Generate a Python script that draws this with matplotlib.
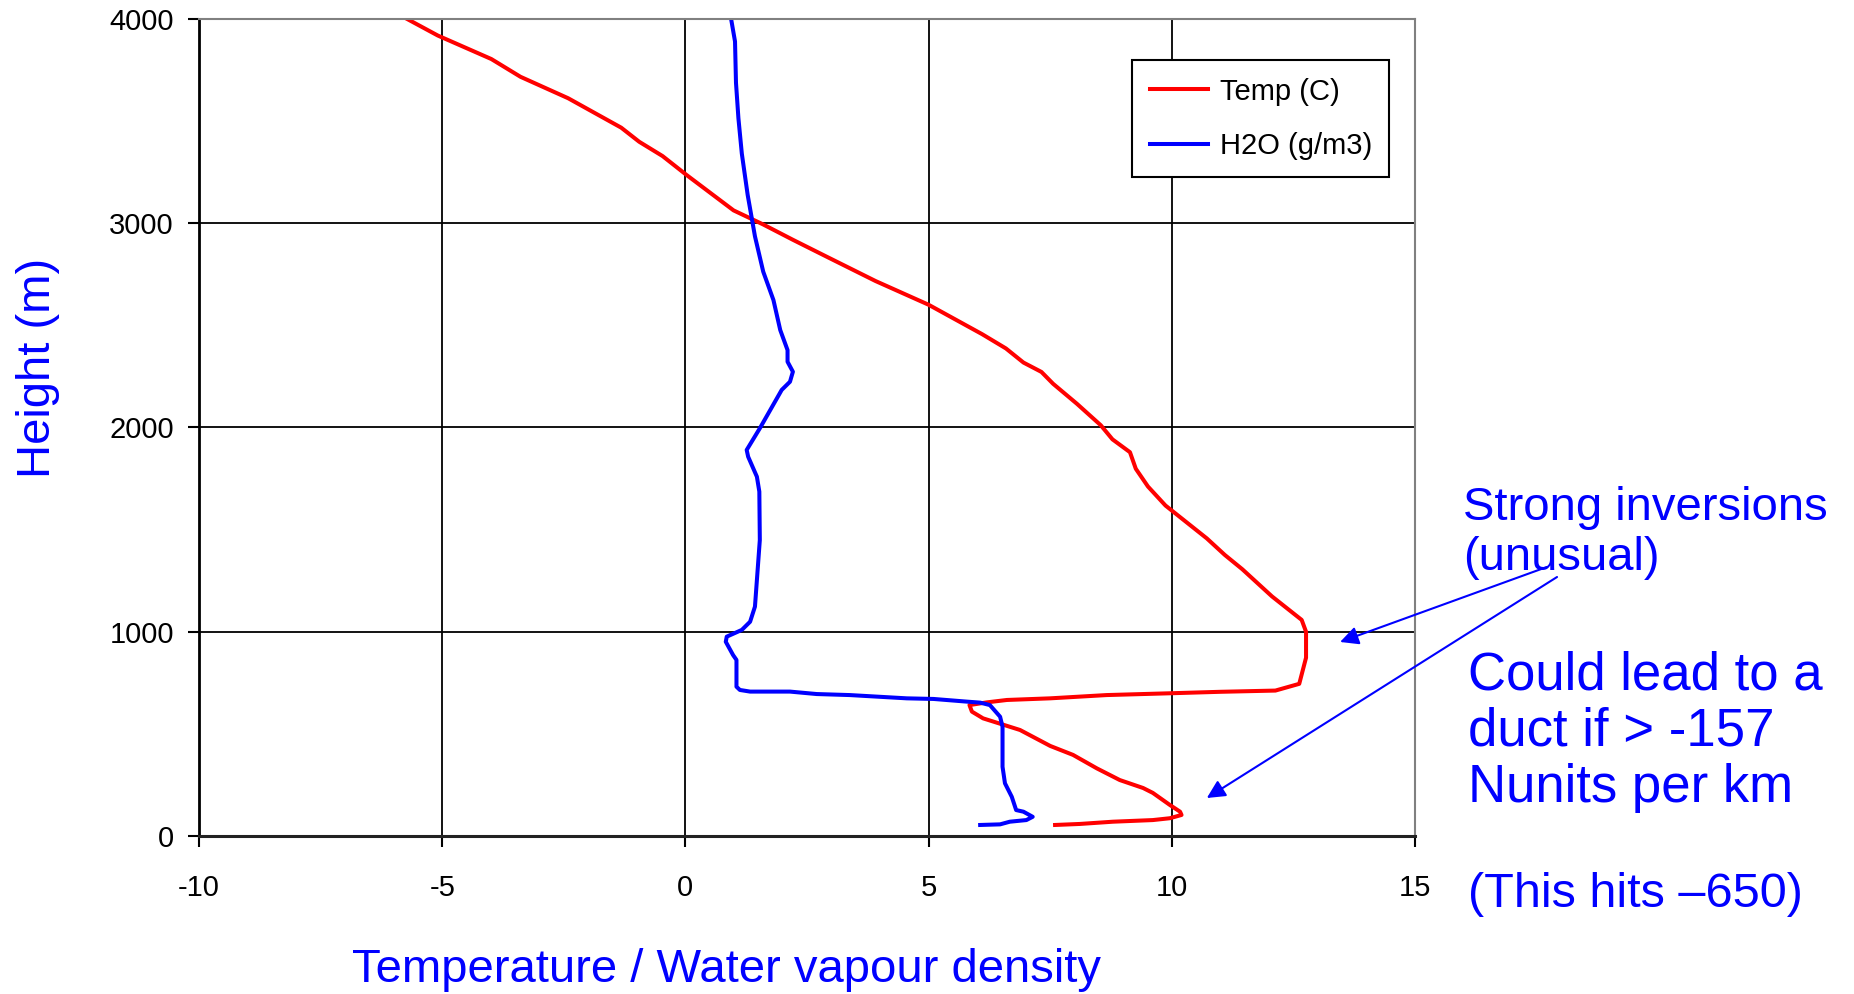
import matplotlib
matplotlib.use("Agg")
import matplotlib.pyplot as plt

plt.rcParams["font.family"] = ["Liberation Sans", "DejaVu Sans"]
plt.rcParams["axes.unicode_minus"] = False

# Temperature profile (deg C) vs height (m), ground up
temp_c = [7.60, 8.11, 8.79, 9.61, 9.96, 10.20, 10.17, 9.96, 9.61, 9.41, 8.93, 8.46, 7.97,
          7.50, 6.88, 6.12, 5.89, 5.84, 6.19, 6.61, 7.50, 8.66, 10.00, 11.00, 12.13, 12.62,
          12.76, 12.76, 12.67, 12.06, 11.45, 11.09, 10.72, 9.87, 9.51, 9.26, 9.14, 8.78,
          8.54, 8.05, 7.56, 7.32, 6.95, 6.59, 6.10, 5.00, 3.91, 2.94, 2.21, 1.60, 0.99,
          0.02, -0.47, -0.95, -1.32, -2.41, -3.39, -3.99, -5.09, -5.72]
temp_h = [54, 59, 70, 78, 87, 103, 119, 152, 211, 235, 274, 331, 397,
          441, 519, 576, 609, 641, 654, 666, 674, 690, 699, 706, 712, 745,
          873, 1000, 1058, 1173, 1306, 1376, 1457, 1618, 1711, 1798, 1879, 1942,
          2011, 2116, 2214, 2272, 2318, 2387, 2457, 2601, 2717, 2832, 2919, 2994, 3063,
          3237, 3329, 3399, 3468, 3612, 3717, 3804, 3919, 4000]

# Water vapour density (g/m3) vs height (m), ground up
h2o = [6.06, 6.47, 6.67, 7.01, 7.14, 6.95, 6.80, 6.71, 6.57, 6.52, 6.52, 6.47, 6.26,
       6.06, 5.78, 5.10, 4.55, 3.38, 2.70, 2.15, 1.33, 1.12, 1.05, 1.05, 0.98, 0.83,
       0.85, 1.16, 1.33, 1.43, 1.53, 1.52, 1.47, 1.29, 1.26, 1.53, 1.98, 2.15, 2.21,
       2.10, 2.10, 1.95, 1.81, 1.60, 1.43, 1.28, 1.16, 1.09, 1.04, 1.02, 0.94]
h2o_h = [54, 57, 70, 78, 94, 119, 127, 192, 258, 339, 535, 584, 641,
         653, 658, 671, 674, 690, 695, 707, 707, 715, 731, 862, 886, 951,
         976, 1009, 1049, 1123, 1449, 1686, 1759, 1857, 1890, 1996, 2184, 2224, 2273,
         2322, 2379, 2477, 2624, 2763, 2936, 3139, 3341, 3514, 3688, 3890, 4000]

x_ticks = [-10, -5, 0, 5, 10, 15]
y_ticks = [0, 1000, 2000, 3000, 4000]

W, H = 1854, 994


def fx(px):
    return px / W


def fy(py):
    return 1 - py / H


fig = plt.figure(figsize=(W / 100, H / 100), dpi=100)
ax = fig.add_axes([fx(199), fy(836), 1216 / W, 817 / H])

ax.plot(temp_c, temp_h, color="#ff0000", lw=2.9, label="Temp (C)")
ax.plot(h2o, h2o_h, color="#0000ff", lw=2.9, label="H2O (g/m3)")

ax.set_xlim(-10, 15)
ax.set_ylim(0, 4000)
ax.set_xticks(x_ticks)
ax.set_yticks(y_ticks)
ax.grid(True, color="black", lw=1.3)
ax.set_axisbelow(True)

ax.spines["left"].set_color("black")
ax.spines["left"].set_linewidth(2)
ax.spines["bottom"].set_color("#222222")
ax.spines["bottom"].set_linewidth(2.2)
for s in ("top", "right"):
    ax.spines[s].set_color("#808080")
    ax.spines[s].set_linewidth(1.5)

ax.tick_params(axis="x", direction="out", length=8, width=1.5, pad=19, labelsize=21)
ax.tick_params(axis="y", direction="out", length=8, width=1.5, pad=10, labelsize=21)

ax.set_xlabel("Temperature / Water vapour density", color="#0000ff", fontsize=34)
ax.xaxis.set_label_coords(0.434, -0.164)
ax.set_ylabel("Height (m)", color="#0000ff", fontsize=34)
ax.yaxis.set_label_coords(-0.132, 0.573)
ax.xaxis.label.set_va("center")
ax.yaxis.label.set_va("center")

leg = ax.legend(loc="upper left", bbox_to_anchor=(fx(1132), fy(60)),
                bbox_transform=fig.transFigure, fontsize=21, frameon=True,
                fancybox=False, framealpha=1, edgecolor="black",
                handlelength=2.0, handletextpad=0.4, labelspacing=0.9,
                borderpad=0.6, borderaxespad=0)
leg.get_frame().set_linewidth(1.5)

# annotations on the right
blue = "#0000ff"
fig.text(fx(1463), fy(520), "Strong inversions", color=blue, fontsize=34, va="baseline")
fig.text(fx(1463), fy(570), "(unusual)", color=blue, fontsize=34, va="baseline")
fig.text(fx(1468), fy(690), "Could lead to a", color=blue, fontsize=38, va="baseline")
fig.text(fx(1468), fy(746), "duct if > -157", color=blue, fontsize=38, va="baseline")
fig.text(fx(1468), fy(802), "Nunits per km", color=blue, fontsize=38, va="baseline")
fig.text(fx(1468), fy(907), "(This hits \u2013650)", color=blue, fontsize=35, va="baseline")

arrow = dict(arrowstyle="-|>,head_length=0.5,head_width=0.25", color=blue, lw=1.5,
             mutation_scale=22, shrinkA=0, shrinkB=0)
ax.annotate("", xy=(13.46, 950), xytext=(17.71, 1317), arrowprops=arrow, annotation_clip=False)
ax.annotate("", xy=(10.72, 186), xytext=(17.92, 1268), arrowprops=arrow, annotation_clip=False)

fig.savefig("out.png", dpi=100)
